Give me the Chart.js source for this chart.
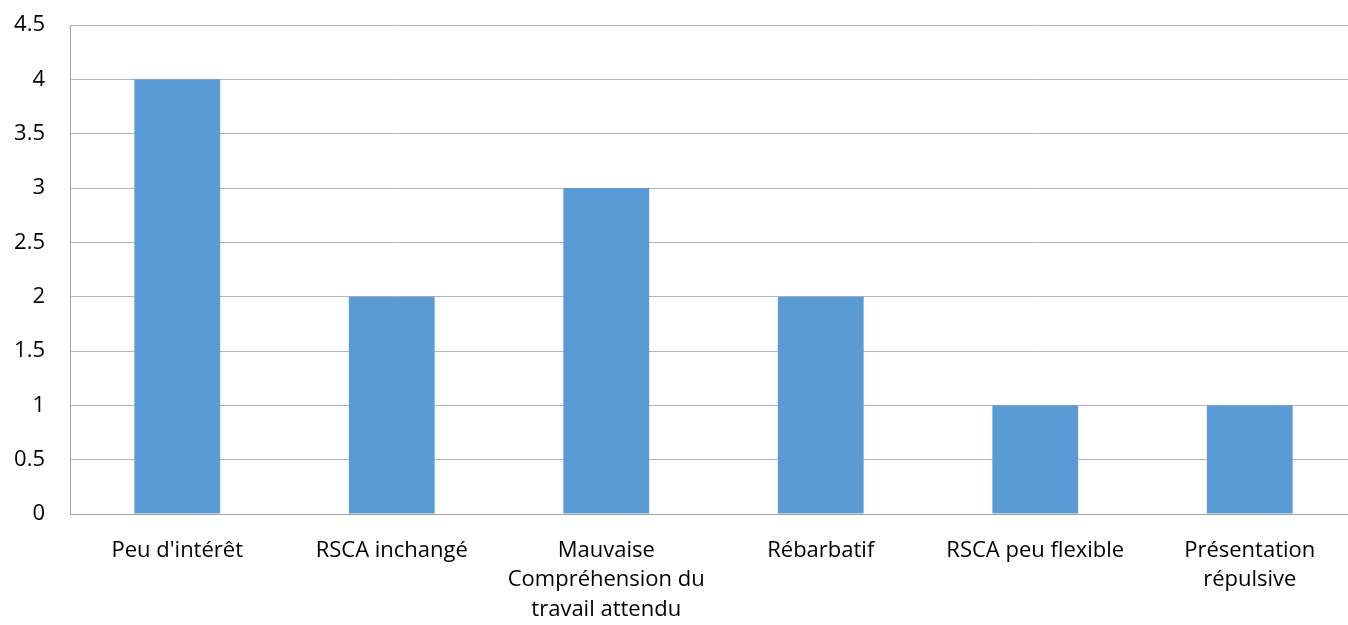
<!DOCTYPE html>
<html>
<head>
<meta charset="utf-8">
<script src="https://cdn.jsdelivr.net/npm/chart.js@4"></script>
<style>
  html, body { margin: 0; padding: 0; background: #fff; overflow: hidden; }
  #wrap { width: 1358px; height: 625px; }
</style>
</head>
<body>
<div id="wrap"><canvas id="myChart" width="1358" height="625"></canvas></div>
<script>
// data
const categories = [
    'Peu d\'intérêt',
    'RSCA inchangé',
    ['Mauvaise', 'Compréhension du', 'travail attendu'],
    'Rébarbatif',
    'RSCA peu flexible',
    ['Présentation', 'répulsive']
];
const values = [4, 2, 3, 2, 1, 1];
const yMax = 4.5;
const yStep = 0.5;

const ctx = document.getElementById('myChart').getContext('2d');

// the original picture is cut off on the right, so the canvas is a bit wider than the window
new Chart(ctx, {
    type: 'bar',
    data: {
        labels: categories,
        datasets: [{
            data: values,
            backgroundColor: '#5B9BD5',
            borderWidth: 0,
            categoryPercentage: 1,
            barPercentage: 0.4
        }]
    },
    options: {
        responsive: false,
        animation: false,
        layout: { padding: { top: 25, right: 1, left: 0, bottom: 0 } },
        plugins: {
            legend: { display: false },
            tooltip: { enabled: false }
        },
        scales: {
            x: {
                grid: { display: false, drawTicks: false },
                border: { color: '#a6a6a6', width: 1 },
                afterFit: (scale) => { scale.height = 111; scale.paddingTop = 0; },
                ticks: {
                    color: '#000',
                    font: { family: 'Open Sans', size: 22, lineHeight: 1.34 },
                    maxRotation: 0,
                    autoSkip: false,
                    padding: 22
                }
            },
            y: {
                min: 0,
                max: yMax,
                afterFit: (scale) => { scale.width = 70; scale.paddingTop = 0; },
                grid: { color: '#b4b4b4', drawTicks: false },
                border: { color: '#a6a6a6', width: 1 },
                ticks: {
                    stepSize: yStep,
                    color: '#000',
                    font: { family: 'Open Sans', size: 22 },
                    padding: 25,
                    callback: (v) => String(v)
                }
            }
        }
    }
});
</script>
</body>
</html>
